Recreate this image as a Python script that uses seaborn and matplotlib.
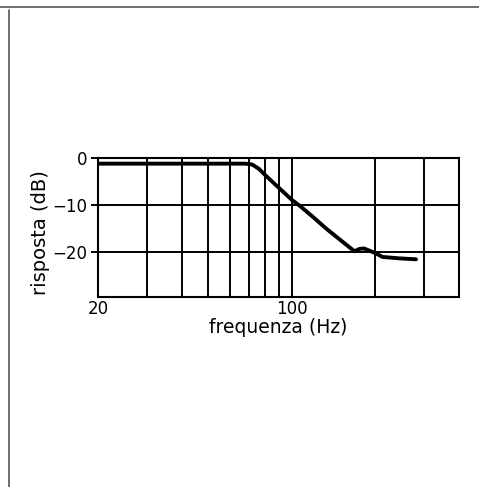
import matplotlib
matplotlib.use("Agg")
import matplotlib.pyplot as plt
import seaborn as sns
import pandas as pd
from matplotlib.lines import Line2D

# data
freq_hz = [20, 40, 60, 68, 72, 76, 81, 90, 100, 107, 119, 133, 148, 160, 168, 175, 182, 200, 212, 244, 280]
risposta_db = [-1.2, -1.2, -1.2, -1.2, -1.4, -2.3, -3.9, -6.4, -8.9, -10.2, -12.5, -15.0, -17.2, -18.8, -19.8, -19.3, -19.2, -20.2, -21.0, -21.3, -21.5]

x_major = [20, 100]
x_major_labels = ["20", "100"]
x_grid = [30, 40, 50, 60, 70, 80, 90, 100, 200, 300]
y_ticks = [0, -10, -20]
y_tick_labels = ["0", "\u221210", "\u221220"]

df = pd.DataFrame({"freq": freq_hz, "db": risposta_db})

sns.set_style("white")
plt.rcParams["font.family"] = ["DejaVu Sans"]
plt.rcParams["text.color"] = "black"
plt.rcParams["axes.labelcolor"] = "black"
plt.rcParams["xtick.color"] = "black"
plt.rcParams["ytick.color"] = "black"

fig = plt.figure(figsize=(4.79, 4.87), dpi=100)
ax = fig.add_axes([98 / 479, 1 - 297 / 487, (459 - 98) / 479, (297 - 158) / 487])

ax.set_xscale("log")
ax.set_xlim(20, 400)
ax.set_ylim(-29.5, 0)

for xv in x_grid:
    ax.axvline(xv, color="black", lw=1.4, zorder=1)
for yv in y_ticks[1:]:
    ax.axhline(yv, color="black", lw=1.4, zorder=1)

sns.lineplot(data=df, x="freq", y="db", ax=ax, color="black", lw=2.8, zorder=3)

ax.set_xticks(x_major)
ax.set_xticklabels(x_major_labels)
ax.set_xticks([], minor=True)
ax.set_yticks(y_ticks)
ax.set_yticklabels(y_tick_labels)
ax.tick_params(axis="x", length=0, pad=2, labelsize=12, labelcolor="black")
ax.tick_params(axis="y", length=5, width=1.4, color="black", left=True, pad=3, labelsize=12, labelcolor="black")

for s in ax.spines.values():
    s.set_visible(True)
    s.set_color("black")
    s.set_linewidth(1.5)

ax.set_xlabel("frequenza (Hz)", fontsize=13.5, color="black")
ax.set_ylabel("risposta (dB)", fontsize=14, color="black")
ax.xaxis.set_label_coords(0.5, (297 - 318) / 139)
ax.yaxis.set_label_coords((50 - 98) / 361, (297 - 233) / 139)

# page frame from the scan
fig.add_artist(Line2D([0, 1], [1 - 7 / 487, 1 - 7 / 487], transform=fig.transFigure, color="#555555", lw=1.2))
fig.add_artist(Line2D([9 / 479, 9 / 479], [0, 1 - 10 / 487], transform=fig.transFigure, color="#555555", lw=1.2))

fig.savefig("out.png", dpi=100)
